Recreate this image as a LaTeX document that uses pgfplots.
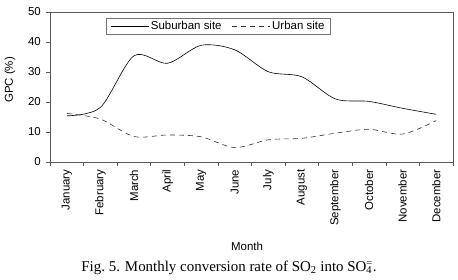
\documentclass[border=0pt]{standalone}
\usepackage{pgfplots}
\pgfplotsset{compat=1.18}
\usepackage{fontspec}
\setmainfont{Liberation Sans}
\newfontfamily\capfont{Liberation Serif}
\begin{document}
\begin{tikzpicture}
\begin{axis}[
  at={(0bp,0bp)}, anchor=south west,
  scale only axis, width=403bp, height=150bp,
  xmin=-0.5, xmax=11.5, ymin=0, ymax=50,
  axis line style={black!65, line width=0.6bp},
  font=\fontsize{11.5}{13}\selectfont,
  /pgf/number format/assume math mode=true,
  xtick={-0.5,0.5,...,11.5}, xticklabels={},
  extra x ticks={0,1,2,3,4,5,6,7,8,9,10,11},
  extra x tick labels={January,February,March,April,May,June,July,August,September,October,November,December},
  extra x tick style={major tick length=0pt, tick label style={rotate=90, anchor=east, inner xsep=7.5bp}},
  ytick={0,10,...,50},
  tick align=outside, major tick length=3.5bp,
  tick style={black!65, line width=0.6bp},
  xtick pos=bottom, ytick pos=left,
  yticklabel style={inner xsep=0bp, xshift=-5.5bp},
  xlabel={Month},
  xlabel style={at={(rel axis cs:0.489,0)}, anchor=base, yshift=-88.7bp},
  legend style={at={(rel axis cs:0.139,0.96)}, anchor=north west, legend columns=2,
    draw=black!55, line width=0.6bp, inner xsep=4bp, inner ysep=1bp, font=\fontsize{11.5}{13}\selectfont,
    /tikz/every even column/.append style={column sep=8bp}},
  legend image code/.code={\draw[#1] (0bp,0bp) -- (38bp,0bp);},
  clip=false,
]
\addplot[black, line width=0.6bp, smooth, tension=0.5] coordinates {
 (0,15.4) (1,18.2) (2,35.4) (3,32.9) (4,38.9) (5,37.4) (6,30.1) (7,28.4) (8,21.0) (9,20.2) (10,17.9) (11,15.9)};
\addlegendentry{Suburban site}
\addplot[black!80, line width=0.6bp, smooth, tension=0.5, dash pattern=on 5bp off 4bp] coordinates {
 (0,16.2) (1,14.3) (2,8.5) (3,9.0) (4,8.4) (5,4.8) (6,7.4) (7,7.9) (8,9.6) (9,10.9) (10,9.3) (11,13.8)};
\addlegendentry{Urban site}
\end{axis}
\node[rotate=90, anchor=center, font=\fontsize{11.5}{13}\selectfont] at (-40bp,82bp) {GPC (\%)};
\node[anchor=base, font=\capfont\fontsize{15}{17}\selectfont] at (179bp,-109.7bp)
  {Fig.~5. Monthly conversion rate of SO\textsubscript{2} into SO\rlap{\textsubscript{4}}\textsuperscript{=}.};
\pgfresetboundingbox
\path[use as bounding box] (-50bp,-118bp) rectangle (408bp,162bp);
\end{tikzpicture}
\end{document}
